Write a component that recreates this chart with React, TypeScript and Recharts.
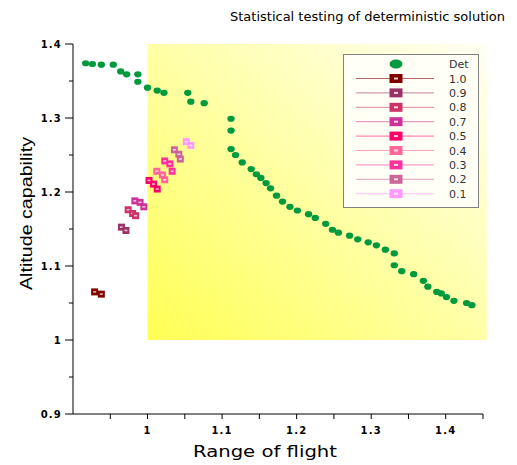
import { ScatterChart, Scatter, XAxis, YAxis, ReferenceArea, Legend } from 'recharts';

const detRange = [0.917, 0.926, 0.938, 0.954, 0.964, 0.972, 0.987, 0.987, 1.0, 1.013, 1.022, 1.054, 1.058, 1.076, 1.112, 1.112, 1.112, 1.118, 1.127, 1.139, 1.146, 1.152, 1.159, 1.165, 1.173, 1.181, 1.191, 1.201, 1.216, 1.225, 1.239, 1.248, 1.256, 1.271, 1.282, 1.296, 1.307, 1.319, 1.331, 1.331, 1.341, 1.357, 1.37, 1.376, 1.388, 1.394, 1.401, 1.411, 1.428, 1.435];
const detAltitude = [1.374, 1.373, 1.372, 1.372, 1.363, 1.359, 1.359, 1.349, 1.341, 1.337, 1.334, 1.334, 1.322, 1.32, 1.299, 1.283, 1.258, 1.25, 1.24, 1.231, 1.224, 1.219, 1.212, 1.205, 1.195, 1.187, 1.18, 1.175, 1.17, 1.165, 1.157, 1.149, 1.145, 1.141, 1.136, 1.132, 1.128, 1.122, 1.117, 1.101, 1.093, 1.089, 1.08, 1.072, 1.065, 1.063, 1.058, 1.053, 1.05, 1.047];

const levels = ['1.0', '0.9', '0.8', '0.7', '0.5', '0.4', '0.3', '0.2', '0.1'];
const levelRange = [
  [0.929, 0.938],
  [0.965, 0.971],
  [0.974, 0.98, 0.984],
  [0.983, 0.99, 0.995],
  [1.002, 1.008, 1.013],
  [1.0125, 1.02, 1.023],
  [1.023, 1.03, 1.033],
  [1.036, 1.042, 1.044],
  [1.052, 1.058],
];
const levelAltitude = [
  [1.065, 1.062],
  [1.1525, 1.148],
  [1.176, 1.171, 1.168],
  [1.188, 1.186, 1.18],
  [1.2156, 1.2107, 1.204],
  [1.228, 1.223, 1.2165],
  [1.242, 1.238, 1.228],
  [1.257, 1.251, 1.2445],
  [1.268, 1.263],
];
const levelColors = ['#800000', '#993366', '#cc3366', '#cc3399', '#ff0066', '#ff6699', '#ff3399', '#cc6699', '#ff99ff'];

const xTicks = [0.95, 1.0, 1.05, 1.1, 1.15, 1.2, 1.25, 1.3, 1.35, 1.4, 1.45];
const yTicks = [0.9, 0.95, 1.0, 1.05, 1.1, 1.15, 1.2, 1.25, 1.3, 1.35, 1.4];

const detData = detRange.map((x, i) => ({ x, y: detAltitude[i] }));
const levelData = levelRange.map((xs, k) => xs.map((x, i) => ({ x, y: levelAltitude[k][i] })));

const DET_COLOR = '#009a3e';
const isMajor = (v: number) => Math.round(v * 100) % 10 === 0;
const fmt = (v: number) => (isMajor(v) ? String(Number(v.toFixed(2))) : '');
const tickStyle = { fontSize: 10, fontWeight: 'bold', fill: '#000', fontFamily: 'DejaVu Sans', letterSpacing: 1.2 };

// y ticks: long for labelled values, short for the ones between
const YTick = (p: any) => {
  const v = p.payload.value;
  const axisX = p.x + 10;
  const len = isMajor(v) ? 8 : 4;
  return (
    <g>
      <line x1={axisX - len} x2={axisX} y1={p.y} y2={p.y} stroke="#000" />
      <text x={p.x - 1} y={p.y + 3.5} textAnchor="end" {...tickStyle}>{fmt(v)}</text>
    </g>
  );
};

const Dot = (p: any) => <ellipse cx={p.cx} cy={p.cy} rx={3.7} ry={3.1} fill={DET_COLOR} />;

const makeSquare = (color: string) => (p: any) => (
  <g>
    <rect x={p.cx - 3.5} y={p.cy - 3.5} width={7} height={7} fill={color} />
    <rect x={p.cx - 1.5} y={p.cy - 0.8} width={3} height={1.6} fill="#fff" opacity={0.7} />
  </g>
);

const renderLegend = () => (
  <svg width={136} height={155} style={{ display: 'block' }}>
    <rect x={0.5} y={0.5} width={135} height={153} fill="#fffff6" stroke="#808080" />
    <ellipse cx={53} cy={10} rx={6.5} ry={4.5} fill={DET_COLOR} />
    <text x={106} y={14} fontSize={11} fill="#333" fontFamily="DejaVu Sans">Det</text>
    {levels.map((lv, i) => {
      const y = 24.5 + i * 14.4;
      return (
        <g key={lv}>
          <line x1={13} x2={91} y1={y} y2={y} stroke={levelColors[i]} strokeOpacity={0.6} />
          <rect x={46.5} y={y - 4.5} width={13} height={9} fill={levelColors[i]} />
          <rect x={51} y={y - 1} width={4} height={2} fill="#fff" opacity={0.8} />
          <text x={106} y={y + 4} fontSize={11} fill="#333" fontFamily="DejaVu Sans">{lv}</text>
        </g>
      );
    })}
  </svg>
);

export default function App() {
  return (
    <div style={{ position: 'absolute', left: 0, top: 0, width: 517, height: 465, background: '#fff' }}>
      <svg width={517} height={30} style={{ position: 'absolute', left: 0, top: 0 }}>
        <text x={230} y={21} fontSize={13} fontFamily="DejaVu Sans" fill="#000">
          Statistical testing of deterministic solution
        </text>
      </svg>
      <ScatterChart width={517} height={465} margin={{ top: 44, right: 34, bottom: 21, left: 28 }}>
        <defs>
          <linearGradient id="yel" x1="0" y1="1" x2="1" y2="0">
            <stop offset="0%" stopColor="#ffff55" />
            <stop offset="50%" stopColor="#ffffa6" />
            <stop offset="100%" stopColor="#fffff4" />
          </linearGradient>
        </defs>
        <XAxis
          type="number"
          dataKey="x"
          domain={[0.9, 1.45]}
          ticks={xTicks}
          tickFormatter={fmt}
          tick={tickStyle}
          tickSize={5}
          tickMargin={8}
          height={30}
          stroke="#000"
          interval={0}
          allowDataOverflow
          label={() => (
            <text x={193} y={457} fontSize={16} fontFamily="DejaVu Sans" fill="#000" textLength={144} lengthAdjust="spacingAndGlyphs">Range of flight</text>
          )}
        />
        <YAxis
          type="number"
          dataKey="y"
          domain={[0.9, 1.4]}
          ticks={yTicks}
          tick={YTick}
          tickLine={false}
          tickSize={8}
          tickMargin={2}
          width={45}
          stroke="#000"
          interval={0}
          allowDataOverflow
          label={() => (
            <text x={32} y={290} transform="rotate(-90 32 290)" fontSize={17} fontFamily="Liberation Sans" fill="#000" textLength={153} lengthAdjust="spacingAndGlyphs">Altitude capability</text>
          )}
        />
        <ReferenceArea x1={1.0} x2={1.455} y1={1.0} y2={1.4} fill="url(#yel)" fillOpacity={1} stroke="none" ifOverflow="visible" />
        <Scatter name="Det" data={detData} shape={Dot} isAnimationActive={false} />
        {levelData.map((d, k) => (
          <Scatter key={levels[k]} name={levels[k]} data={d} shape={makeSquare(levelColors[k])} isAnimationActive={false} />
        ))}
        <Legend
          layout="vertical"
          align="center"
          verticalAlign="middle"
          content={renderLegend}
          wrapperStyle={{ position: 'absolute', left: 343, top: 54, width: 136, height: 155 }}
        />
      </ScatterChart>
    </div>
  );
}
